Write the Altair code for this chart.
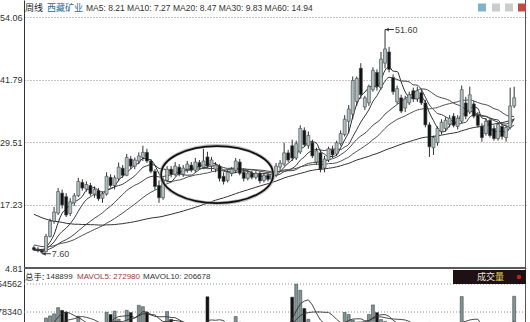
import altair as alt
import pandas as pd

# ---- weekly candles (visible window) ----
opens = [
    8.8, 8.4, 8.2, 8.0, 11.0, 14.0, 15.6, 19.5, 18.8, 15.5,
    17.6, 19.0, 21.6, 20.3, 21.0, 19.3, 20.0, 18.5, 19.3, 22.6,
    21.0, 22.3, 24.4, 23.0, 26.2, 24.8, 25.8, 26.5, 27.5, 25.8,
    23.8, 21.0, 18.6, 22.0, 24.2, 23.2, 24.6, 23.2, 24.2, 25.0,
    24.0, 25.5, 24.6, 26.6, 24.8, 24.2, 24.8, 22.8, 22.0, 23.4,
    24.0, 25.6, 23.6, 22.4, 23.4, 22.6, 23.4, 22.0, 23.0, 22.2,
    23.0, 24.6, 25.2, 27.4, 28.8, 26.4, 27.6, 31.8, 28.8, 29.4,
    25.6, 27.4, 24.4, 26.0, 28.0, 27.2, 29.2, 31.0, 33.6, 35.0,
    37.5, 44.0, 36.4, 37.2, 39.8, 43.2, 40.2, 45.0, 47.2, 42.2,
    37.4, 38.2, 36.2, 37.2, 39.6, 38.0, 39.2, 37.2, 32.9, 28.4,
    29.4, 31.6, 32.2, 33.0, 34.6, 32.6, 33.6, 37.2, 35.4, 37.0,
    34.8, 32.6, 31.2, 33.8, 32.2, 30.2, 32.6, 30.4, 32.4, 36.6,
]
closes = [
    8.4, 8.2, 7.9, 11.0, 14.0, 15.8, 19.8, 17.2, 15.2, 17.8,
    19.0, 21.8, 20.5, 21.2, 19.4, 20.2, 18.4, 19.4, 22.8, 21.0,
    22.5, 24.6, 23.0, 26.5, 24.8, 26.0, 26.8, 27.5, 25.8, 23.8,
    20.8, 18.6, 22.0, 24.2, 23.2, 24.8, 23.2, 24.4, 25.2, 24.0,
    25.6, 24.6, 25.8, 24.8, 26.0, 25.0, 22.4, 21.8, 23.6, 24.2,
    25.8, 23.4, 22.4, 23.4, 22.6, 23.4, 21.9, 23.0, 22.2, 23.2,
    24.8, 25.4, 27.4, 26.0, 26.4, 29.2, 32.2, 29.0, 30.8, 26.8,
    27.8, 24.2, 26.2, 28.2, 27.0, 29.4, 31.2, 34.0, 36.0, 41.6,
    42.0, 38.8, 38.2, 40.4, 43.6, 40.4, 45.8, 47.8, 43.8, 39.4,
    40.0, 35.6, 38.0, 38.8, 38.0, 39.6, 37.2, 32.9, 28.6, 30.4,
    32.2, 33.4, 33.8, 34.2, 32.8, 34.2, 39.8, 34.6, 38.8, 34.6,
    32.8, 30.4, 33.6, 30.8, 30.2, 33.0, 30.6, 32.4, 36.6, 38.2,
]
highs = [
    9.2, 8.9, 8.6, 11.5, 14.5, 16.8, 20.5, 20.2, 19.5, 18.5,
    19.5, 22.5, 22.2, 21.8, 21.5, 20.8, 20.5, 19.8, 23.6, 23.2,
    23.0, 25.5, 25.0, 27.2, 26.8, 26.5, 27.5, 28.8, 28.2, 26.2,
    24.2, 22.0, 22.6, 24.8, 24.8, 25.6, 25.2, 25.0, 25.8, 25.6,
    26.4, 26.0, 28.2, 27.6, 26.6, 25.6, 25.2, 23.6, 24.2, 24.6,
    26.4, 26.2, 24.4, 24.0, 23.9, 23.8, 23.8, 23.4, 23.6, 23.6,
    25.4, 26.0, 29.4, 28.0, 30.0, 29.8, 32.8, 32.4, 31.6, 30.0,
    28.4, 28.0, 26.8, 28.6, 28.8, 29.8, 31.8, 34.8, 36.8, 42.4,
    42.4, 45.0, 38.6, 40.8, 44.2, 43.8, 47.2, 51.6, 48.2, 42.8,
    40.6, 38.8, 38.6, 39.4, 40.2, 40.4, 40.0, 37.8, 33.4, 30.8,
    32.6, 34.0, 34.4, 34.8, 35.2, 34.8, 40.6, 38.4, 40.4, 37.6,
    35.4, 33.2, 34.2, 34.2, 32.8, 33.4, 33.2, 32.8, 40.2, 40.4,
]
lows = [
    8.2, 7.9, 7.6, 7.9, 10.8, 13.5, 15.2, 16.5, 14.8, 15.0,
    17.0, 18.7, 20.0, 19.8, 19.0, 18.6, 18.0, 17.6, 19.0, 20.6,
    20.2, 21.8, 22.5, 22.8, 24.2, 24.2, 25.2, 25.8, 25.4, 23.4,
    20.2, 17.6, 18.2, 21.6, 22.6, 22.8, 22.8, 22.7, 23.5, 23.6,
    23.6, 24.2, 24.2, 24.4, 23.8, 23.6, 21.8, 21.2, 21.6, 22.8,
    23.4, 23.0, 21.8, 22.0, 22.2, 22.2, 21.4, 21.6, 21.8, 21.8,
    22.6, 24.0, 24.8, 25.6, 25.8, 26.0, 27.2, 28.6, 28.2, 26.4,
    25.0, 23.6, 23.6, 25.6, 26.4, 26.8, 28.8, 30.6, 31.2, 34.0,
    36.6, 38.0, 35.8, 36.6, 39.4, 39.6, 39.8, 44.0, 43.2, 38.8,
    37.0, 35.2, 35.4, 36.8, 37.4, 37.4, 36.8, 32.4, 26.6, 27.0,
    28.8, 31.0, 31.6, 32.4, 32.4, 32.0, 33.2, 34.0, 35.0, 34.2,
    32.4, 29.6, 30.8, 30.4, 29.8, 29.8, 30.0, 29.6, 32.0, 36.2,
]
volumes = [
    148899, 176000, 205000, 455000, 498000, 540000, 668000, 612000, 575000, 352000,
    318000, 492000, 336000, 290000, 268000, 246000, 238000, 296000, 574000, 528000,
    596000, 430000, 338000, 612000, 566000, 344000, 716000, 688000, 574000, 318000,
    296000, 342000, 364000, 586000, 428000, 302000, 276000, 254000, 288000, 262000,
    298000, 244000, 332000, 892000, 306000, 268000, 296000, 252000, 236000, 274000,
    486000, 318000, 262000, 228000, 216000, 238000, 226000, 214000, 232000, 248000,
    296000, 318000, 352000, 306000, 884000, 1150000, 1026000, 652000, 428000, 356000,
    324000, 308000, 286000, 298000, 276000, 312000, 344000, 568000, 526000, 412000,
    338000, 346000, 362000, 528000, 724000, 566000, 424000, 386000, 352000, 318000,
    286000, 296000, 254000, 238000, 246000, 228000, 252000, 336000, 364000, 298000,
    264000, 238000, 224000, 216000, 232000, 248000, 896000, 342000, 356000, 298000,
    262000, 284000, 246000, 232000, 218000, 236000, 224000, 252000, 364000, 902000,
]

# earlier weeks, only used to seed the moving averages
prior_closes = [
    28.2, 28.8, 27.1, 27.6, 26.0, 26.5, 24.8, 25.3, 23.9, 24.2,
    22.6, 23.0, 21.7, 21.2, 20.9, 21.4, 20.6, 20.3,
    19.6, 20.1, 18.9, 18.2, 18.6, 17.4, 16.9, 17.2, 15.9, 15.2, 14.5, 13.9,
    13.2, 12.6, 12.0, 12.3, 11.5, 11.0, 11.2, 10.6, 10.2, 10.4,
    8.8, 8.5, 8.9, 8.4, 8.1, 8.3, 8.0, 7.9, 8.2, 7.8,
    8.0, 7.7, 8.1, 7.9, 8.3, 8.0, 8.4, 8.6, 8.9,
]
prior_volumes = [210000, 186000, 172000, 164000, 158000, 150000, 146000, 152000, 160000]

# axis tick values
price_ticks = [4.81, 17.23, 29.51, 41.79, 54.06]
vol_ticks = [578340, 1154562]

# ---- table ----
n_prior = len(prior_closes)
rows = []
for k, c in enumerate(prior_closes):
    j = k - (n_prior - len(prior_volumes))
    rows.append({"i": k - n_prior, "close": c, "vol": prior_volumes[j] if j >= 0 else None})
for k in range(len(closes)):
    rows.append({"i": k, "open": opens[k], "high": highs[k], "low": lows[k],
                 "close": closes[k], "vol": volumes[k]})
df = pd.DataFrame(rows)

# ---- layout: plot area is the whole window right of the 24px label gutter ----
W, H = 502, 322
top_px, sep_px = 17, 268                       # price panel rows
pp = (price_ticks[-1] - price_ticks[0]) / (sep_px - top_px)
price_dom = [price_ticks[0] - (H - sep_px) * pp, price_ticks[-1] + top_px * pp]
vp = (vol_ticks[1] - vol_ticks[0]) / (312 - 284)
vol_dom = [vol_ticks[0] - (H - 312) * vp, vol_ticks[1] + 284 * vp]
step = 4.118
x_dom = [-5 / step, (W - 5) / step]

xs = alt.Scale(domain=x_dom, nice=False, zero=False)
py = alt.Scale(domain=price_dom, nice=False, zero=False)
vy = alt.Scale(domain=vol_dom, nice=False, zero=False)
X = alt.X("i:Q", scale=xs, axis=None)

price_axis = alt.Axis(values=price_ticks, format=".2f", grid=True, gridDash=[1, 2],
                      gridColor="#8c8c8c", ticks=False, domainColor="#333", domainWidth=1,
                      labelFont="Liberation Sans", labelFontSize=9, labelColor="#333",
                      labelPadding=2, labelOverlap=False, title=None)

up = "datum.close >= datum.open"
base = alt.Chart(df)
visible = base.transform_filter("datum.i >= 0")

wicks = visible.mark_rule(color="#333", strokeWidth=1).encode(
    x=X, y=alt.Y("low:Q", scale=py, axis=price_axis), y2="high:Q")
bodies = visible.mark_bar(size=3, stroke="#3c4444", strokeWidth=0.6).encode(
    x=X, y=alt.Y("open:Q", scale=py, axis=None), y2="close:Q",
    fill=alt.condition(up, alt.value("#b3bfbf"), alt.value("#111111")))

ma_names = ["ma5", "ma10", "ma20", "ma30", "ma60"]
ma = base
for name, n in zip(ma_names, [5, 10, 20, 30, 60]):
    ma = ma.transform_window(**{name: "mean(close)"}, frame=[-(n - 1), 0],
                             sort=[alt.SortField("i")])
ma_lines = (ma.transform_filter("datum.i >= 0")
            .transform_fold(ma_names, as_=["ma", "value"])
            .mark_line(strokeWidth=1, interpolate="monotone")
            .encode(x=X, y=alt.Y("value:Q", scale=py, axis=None), detail="ma:N",
                    color=alt.Color("ma:N", legend=None,
                                    scale=alt.Scale(domain=ma_names,
                                                    range=["#2a2a2a", "#3a3a3a", "#474747", "#505050", "#333333"]))))

# peak / trough labels
peak_i, low_i = highs.index(max(highs)), lows.index(min(lows))
ann = pd.DataFrame({"i": [peak_i, low_i], "p": [max(highs), min(lows)],
                    "label": [f"{max(highs):.2f}", f"{min(lows):.2f}"]})
ann_base = alt.Chart(ann).transform_calculate(tx="datum.i + 2.2")
ann_rule = ann_base.mark_rule(color="#333", strokeWidth=1).encode(
    x=X, x2="tx:Q", y=alt.Y("p:Q", scale=py, axis=None))
ann_arrow = ann_base.transform_calculate(ax="datum.i + 0.5").mark_point(
    shape="triangle-left", size=14, filled=True, color="#333", opacity=1).encode(
    x=alt.X("ax:Q", scale=xs, axis=None), y=alt.Y("p:Q", scale=py, axis=None))
ann_text = ann_base.mark_text(align="left", dx=1, font="Liberation Sans", fontSize=9,
                              color="#444").encode(
    x=alt.X("tx:Q", scale=xs, axis=None), y=alt.Y("p:Q", scale=py, axis=None), text="label:N")

# ellipse around the sideways stretch
ring = pd.DataFrame({"i": [45.4], "p": [23.15]})
ELLIPSE = "M-1,0A1,0.509,0,1,0,1,0A1,0.509,0,1,0,-1,0Z"
ring_shadow = alt.Chart(ring).mark_point(shape=ELLIPSE, size=12700, filled=False,
                                         stroke="#a8a8a8", strokeWidth=3.5, opacity=0.7,
                                         dx=1, dy=2).encode(
    x=alt.X("i:Q", scale=xs, axis=None), y=alt.Y("p:Q", scale=py, axis=None))
ring_line = alt.Chart(ring).mark_point(shape=ELLIPSE, size=12544, filled=False,
                                       stroke="#111", strokeWidth=1.7, opacity=1).encode(
    x=alt.X("i:Q", scale=xs, axis=None), y=alt.Y("p:Q", scale=py, axis=None))

# panel separator and right border
one = pd.DataFrame({"k": [0]})
separator = alt.Chart(pd.DataFrame({"p": [price_ticks[0]]})).mark_rule(
    color="#5a5a5a", strokeWidth=2).encode(y=alt.Y("p:Q", scale=py, axis=None))
right_edge = alt.Chart(one).mark_rule(color="#555", strokeWidth=1).encode(
    x=alt.value(W - 0.5), y=alt.value(0), y2=alt.value(H))

# ---- volume panel ----
vol_grid = alt.Chart(pd.DataFrame({"v": vol_ticks})).mark_rule(
    color="#8c8c8c", strokeDash=[1, 2]).encode(y=alt.Y("v:Q", scale=vy, axis=None))
vol_labels = alt.Chart(pd.DataFrame({"v": vol_ticks})).transform_calculate(
    t="format(datum.v, 'd')").mark_text(align="right", dx=-2, font="Liberation Sans",
                                         fontSize=9, color="#333").encode(
    x=alt.value(0), y=alt.Y("v:Q", scale=vy, axis=None), text="t:N")
vol_bars = visible.mark_bar(size=3, clip=True, strokeWidth=0.5, stroke="#333").encode(
    x=X, y=alt.Y("vol:Q", scale=vy, axis=None), y2=alt.datum(0),
    fill=alt.condition(up, alt.value("#7f9494"), alt.value("#111111")))
mv = base
for name, n in zip(["mv5", "mv10"], [5, 10]):
    mv = mv.transform_window(**{name: "mean(vol)"}, frame=[-(n - 1), 0],
                             sort=[alt.SortField("i")])
mavol = (mv.transform_filter("datum.i >= 0")
         .transform_fold(["mv5", "mv10"], as_=["m", "value"])
         .mark_line(strokeWidth=0.9, clip=True, color="#333")
         .encode(x=X, y=alt.Y("value:Q", scale=vy, axis=None), detail="m:N"))

# ---- header texts ----
def label(text, x, y, color="#222", size=8.5, font="Liberation Sans", align="left"):
    return alt.Chart(one).mark_text(text=text, align=align, baseline="middle",
                                    font=font, fontSize=size, color=color).encode(
        x=alt.value(x), y=alt.value(y))

cjk = "Noto Sans CJK SC"
header = [
    label("周线", 1, 8, "#222", 9, cjk),
    label("西藏矿业", 23, 8, "#2b6c8e", 9, cjk),
    label("MA5: 8.21 MA10: 7.27 MA20: 8.47 MA30: 9.83 MA60: 14.94", 62, 8, "#333", 8.5),
    label("总手:", 1, 277, "#222", 8.5, cjk),
    label("148899", 22, 277, "#333", 8),
    label("MAVOL5: 272980", 53, 277, "#9b3a35", 8),
    label("MAVOL10: 206678", 119, 277, "#333", 8),
]

box = alt.Chart(one).mark_rect(color="#1e1013").encode(
    x=alt.value(429), x2=alt.value(W), y=alt.value(270), y2=alt.value(284))
box_text = [label("成交", 453, 277, "#e6e0d4", 9, cjk), label("量", 471, 277, "#e8d35a", 9, cjk)]
box_dot = alt.Chart(one).mark_point(shape="circle", filled=True, size=22, color="#b82222",
                                    opacity=1).encode(x=alt.value(495), y=alt.value(277))

icons = [
    alt.Chart(one).mark_square(size=64, color=c, opacity=1).encode(x=alt.value(x), y=alt.value(7.5))
    for x, c in [(458, "#7fb4ca"), (472, "#c9cdcd"), (485, "#c9cdcd"), (498, "#c0494a")]
]

chart = alt.layer(
    wicks, ma_lines, bodies, ring_shadow, ring_line, ann_rule, ann_arrow, ann_text,
    vol_grid, vol_bars, mavol, vol_labels, separator, right_edge,
    box, *box_text, box_dot, *header, *icons,
).resolve_scale(y="independent").properties(
    width=W, height=H,
    padding={"left": 24, "top": 0, "right": 4, "bottom": 0},
    autosize=alt.AutoSizeParams(type="none"),
    background="white",
).configure_view(stroke=None)

chart.save("out.html", embed_options={"renderer": "svg", "actions": False})
